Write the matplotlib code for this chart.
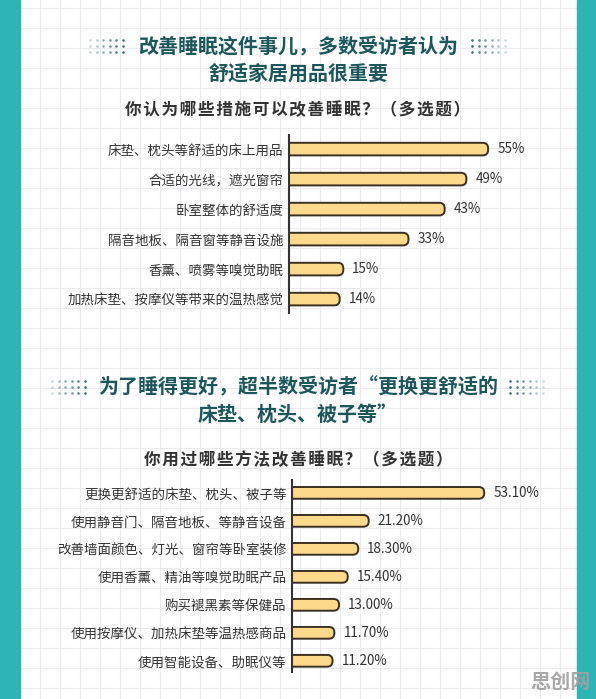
import matplotlib
matplotlib.use('Agg')
import matplotlib.pyplot as plt
from matplotlib.patches import FancyBboxPatch, Rectangle
import numpy as np

plt.rcParams['font.family'] = ['Noto Sans CJK SC', 'DejaVu Sans']

# 数据
labels1 = ['床垫、枕头等舒适的床上用品', '合适的光线，遮光窗帘', '卧室整体的舒适度',
           '隔音地板、隔音窗等静音设施', '香薰、喷雾等嗅觉助眠', '加热床垫、按摩仪等带来的温热感觉']
values1 = [55, 49, 43, 33, 15, 14]
labels2 = ['更换更舒适的床垫、枕头、被子等', '使用静音门、隔音地板、等静音设备',
           '改善墙面颜色、灯光、窗帘等卧室装修', '使用香薰、精油等嗅觉助眠产品',
           '购买褪黑素等保健品', '使用按摩仪、加热床垫等温热感商品', '使用智能设备、助眠仪等']
values2 = [53.1, 21.2, 18.3, 15.4, 13.0, 11.7, 11.2]

title1 = ['改善睡眠这件事儿，多数受访者认为', '舒适家居用品很重要']
sub1 = '你认为哪些措施可以改善睡眠？（多选题）'
title2 = ['为了睡得更好，超半数受访者“更换更舒适的', '床垫、枕头、被子等”']
sub2 = '你用过哪些方法改善睡眠？（多选题）'

W, H = 596, 699
TEAL = '#2cb4b6'
DARK = '#1c575b'
BAR = '#fcd98b'
EDGE = '#3a2f22'
PXU = 3.62  # 每个百分点的像素

fig = plt.figure(figsize=(W/100, H/100), dpi=100)
bg = fig.add_axes([0, 0, 1, 1])
bg.set_xlim(0, W); bg.set_ylim(H, 0); bg.axis('off')
bg.add_patch(Rectangle((0, 0), W, H, color='white', zorder=0))
# 方格背景
for x in np.arange(20, W, 20):
    bg.plot([x, x], [0, H], color='#eaebee', lw=0.8, zorder=1)
for y in np.arange(8, H, 20):
    bg.plot([0, W], [y, y], color='#eaebee', lw=0.8, zorder=1)
# 两侧青色边
bg.add_patch(Rectangle((0, 0), 20, H, color=TEAL, zorder=2))
bg.add_patch(Rectangle((577, 0), W-577, H, color=TEAL, zorder=2))

def dots(x0, y0, flip):
    for c in range(6):
        a = (c+1)/6 if not flip else (6-c)/6
        for r in range(3):
            bg.scatter(x0+c*6.5, y0+r*6, s=3.5, color=DARK, alpha=0.1+0.75*a, lw=0, zorder=3)

def heading(lines, y1, sub, ysub, dl, dr):
    bg.text(298, y1, lines[0], ha='center', va='center', fontsize=14.4, fontweight='bold', color=DARK, zorder=4)
    bg.text(298, y1+27, lines[1], ha='center', va='center', fontsize=14.4, fontweight='bold', color=DARK, zorder=4)
    spaced = '\u200a'.join(sub)
    bg.text(298, ysub, spaced, ha='center', va='center', fontsize=12, fontweight='bold', color='#333333', zorder=4)
    dots(dl, y1-6, False)
    dots(dr, y1-6, True)

heading(title1, 46, sub1, 110, 90, 472)
heading(title2, 387, sub2, 460, 52, 510)

def chart(rect_px, labels, values, fmt, ylim):
    x0, top, w, h = rect_px
    ax = fig.add_axes([x0/W, 1-(top+h)/H, w/W, h/H])
    ax.patch.set_alpha(0)
    ypos = np.arange(len(values))
    bars = ax.barh(ypos, values, height=0.42)
    ax.set_xlim(0, w/PXU)
    ax.set_ylim(*ylim)
    ypx = h/(ylim[0]-ylim[1])
    r = 5.5
    for b in bars:
        bx, by, bw, bh = b.get_x(), b.get_y(), b.get_width(), b.get_height()
        b.set_visible(False)
        fb = FancyBboxPatch((bx-r/PXU, by), bw+r/PXU, bh,
                            boxstyle='round,pad=0,rounding_size=%f' % (r/PXU),
                            mutation_aspect=PXU/ypx,
                            facecolor=BAR, edgecolor=EDGE, lw=1.4, zorder=3)
        ax.add_patch(fb)
        ax.annotate(fmt(bw), (bw, by+bh/2), xytext=(6.5, 0), textcoords='offset points',
                    ha='left', va='center', fontsize=9.7, color='#333333')
    ax.set_yticks(ypos)
    ax.set_yticklabels(labels, fontsize=9.7, color='#333333')
    ax.tick_params(axis='y', length=0, pad=4)
    ax.set_xticks([])
    for s in ['top', 'right', 'bottom']:
        ax.spines[s].set_visible(False)
    ax.spines['left'].set_color('#333333')
    ax.spines['left'].set_linewidth(1.5)
    ax.spines['left'].set_zorder(5)
    return ax

chart((289, 135, 271, 177.6), labels1, values1, lambda v: f'{v:.0f}%', (5.45, -0.47))
chart((292, 480, 268, 192), labels2, values2, lambda v: f'{v:.2f}%', (6.4, -0.46))

# 水印
bg.text(560, 681, '思创网', ha='center', va='center', fontsize=14.5, fontweight='bold',
        color='#a0a0a0', alpha=0.9, zorder=6)

fig.savefig('out.png', dpi=100)
